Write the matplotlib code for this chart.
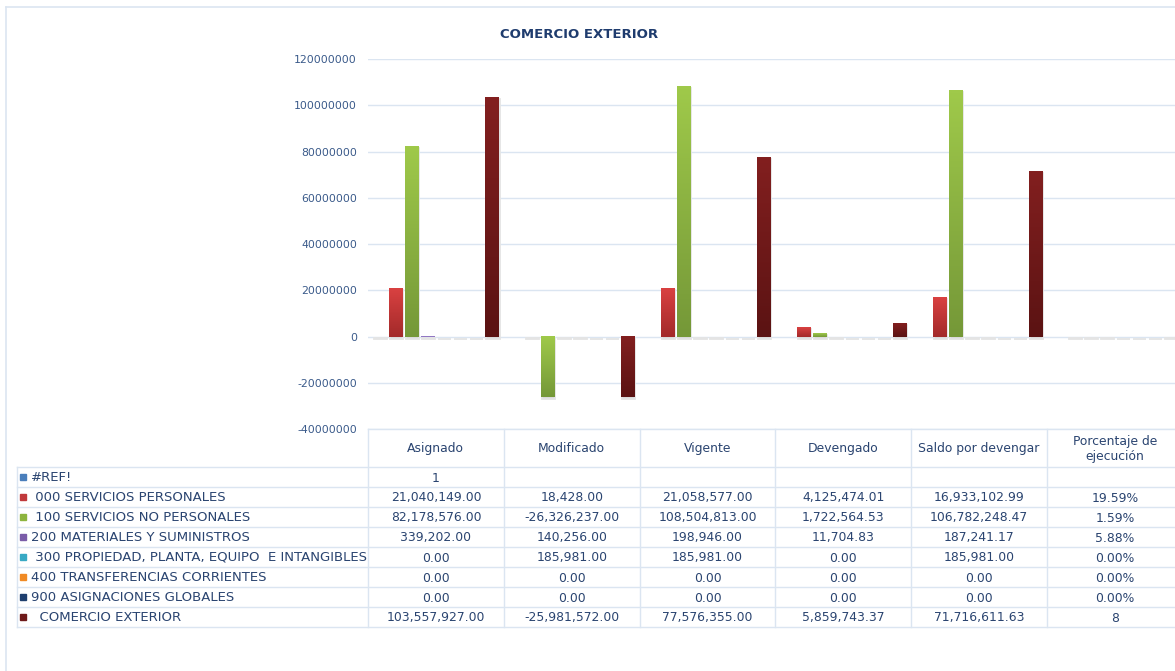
import numpy as np
import matplotlib.pyplot as plt
from matplotlib.colors import LinearSegmentedColormap
from matplotlib.patches import Rectangle
from matplotlib.transforms import offset_copy

plt.rcParams.update({"font.family": "DejaVu Sans"})

# datos
columnas = ["Asignado", "Modificado", "Vigente", "Devengado",
            "Saldo por devengar", "Porcentaje de\nejecución"]
series = ["#REF!",
          " 000 SERVICIOS PERSONALES",
          " 100 SERVICIOS NO PERSONALES",
          "200 MATERIALES Y SUMINISTROS",
          " 300 PROPIEDAD, PLANTA, EQUIPO  E INTANGIBLES",
          "400 TRANSFERENCIAS CORRIENTES",
          "900 ASIGNACIONES GLOBALES",
          "  COMERCIO EXTERIOR"]
ref = [1, np.nan, np.nan, np.nan, np.nan, np.nan]
s000 = [21040149.00, 18428.00, 21058577.00, 4125474.01, 16933102.99, 0.1959]
s100 = [82178576.00, -26326237.00, 108504813.00, 1722564.53, 106782248.47, 0.0159]
s200 = [339202.00, 140256.00, 198946.00, 11704.83, 187241.17, 0.0588]
s300 = [0.00, 185981.00, 185981.00, 0.00, 185981.00, 0.0]
s400 = [0.00, 0.00, 0.00, 0.00, 0.00, 0.0]
s900 = [0.00, 0.00, 0.00, 0.00, 0.00, 0.0]
comercio = [103557927.00, -25981572.00, 77576355.00, 5859743.37, 71716611.63, 8]
pct_txt = ["", "19.59%", "1.59%", "5.88%", "0.00%", "0.00%", "0.00%", "8"]
yticks = np.arange(-40000000, 120000001, 20000000)

valores = [ref, s000, s100, s200, s300, s400, s900, comercio]
# (color arriba, color abajo) por serie
colores = [("#4f81bd", "#3a6aa5"), ("#d94141", "#a32a2a"), ("#9fc94a", "#759838"),
           ("#9a80c8", "#8a70c0"), ("#4bb3cc", "#2f93ab"), ("#f59a3a", "#e07b18"),
           ("#2a4f86", "#1c3a66"), ("#821f1f", "#5b1313")]
marcas = ["#4a7ebb", "#c0393b", "#8db43e", "#7a5ca8", "#38a9c4", "#f08a24",
          "#1f3f6e", "#6e1a1a"]

W, H = 1175, 671
fig = plt.figure(figsize=(W / 100, H / 100), dpi=100)

# capa de fondo en pixeles para tabla y bordes
bg = fig.add_axes([0, 0, 1, 1], zorder=0)
bg.set_xlim(0, W)
bg.set_ylim(H, 0)
bg.axis("off")

x_eje = 368
ancho_grupo = 135.8
y_top, y_bot = 59, 429
ax = fig.add_axes([x_eje / W, 1 - y_bot / H, 6 * ancho_grupo / W, (y_bot - y_top) / H],
                  zorder=1)
ax.patch.set_alpha(0)

n = len(series)
paso = 0.118
ancho = 0.096
x = np.arange(len(columnas))
sombra = offset_copy(ax.transData, fig=fig, x=1, y=-2, units="dots")
# valor que ocupa medio pixel en el eje y
medio_px = 0.5 * (yticks[-1] - yticks[0]) / (y_bot - y_top)

for j, vals in enumerate(valores):
    vals = np.array(vals, dtype=float)
    ok = ~np.isnan(vals)
    pos = x[ok] + (j - (n - 1) / 2) * paso
    ax.bar(pos, vals[ok], width=ancho, color="#d9d9d9", edgecolor="#e4e4e4",
           linewidth=1.3, transform=sombra, zorder=2)
    cmap = LinearSegmentedColormap.from_list("g%d" % j, [colores[j][0], colores[j][1]])
    for p, v in zip(pos, vals[ok]):
        if abs(v) < medio_px:
            continue
        y0, y1 = sorted([0, v])
        grad = np.linspace(0, 1, 64).reshape(-1, 1)
        ax.imshow(grad, extent=[p - ancho / 2, p + ancho / 2, y0, y1], origin="upper",
                  cmap=cmap, aspect="auto", zorder=4, interpolation="bilinear")

ax.set_xlim(-0.5, len(columnas) - 0.5)
ax.set_ylim(yticks[0], yticks[-1])
ax.set_yticks(yticks)
ax.set_yticklabels([str(int(t)) for t in yticks])
ax.set_xticks([])
ax.tick_params(axis="y", length=0, pad=8, labelsize=7.8, labelcolor="#3a5a8a")
ax.grid(axis="y", color="#dbe5f1", linewidth=1)
ax.set_axisbelow(True)
for s in ax.spines.values():
    s.set_visible(False)

fig.text(579 / W, 1 - 35 / H, "COMERCIO EXTERIOR", ha="center", va="center",
         fontsize=9.5, fontweight="bold", color="#1f3c6e")

# borde del grafico
lc = "#dbe5f1"
bg.plot([6, 6], [7, H], color=lc, lw=1.2)
bg.plot([6, W], [7, 7], color=lc, lw=1.2)

# tabla de datos
txt = "#2a4470"
x_label = 17
h_fila = 20
y_fila0 = 467
bordes = [x_eje + k * ancho_grupo for k in range(len(columnas) + 1)]
y_fin = y_fila0 + n * h_fila

bg.plot([x_eje, W], [y_bot, y_bot], color=lc, lw=1)
for k in range(n + 1):
    yy = y_fila0 + k * h_fila
    bg.plot([x_label, W], [yy, yy], color=lc, lw=1)
bg.plot([x_label, x_label], [y_fila0, y_fin], color=lc, lw=1)
for xb in bordes[:-1]:
    bg.plot([xb, xb], [y_bot, y_fin], color=lc, lw=1)

for c, nombre in enumerate(columnas):
    xc = (bordes[c] + bordes[c + 1]) / 2
    if "\n" in nombre:
        bg.text(xc, (y_bot + y_fila0) / 2 + 1, nombre, ha="center", va="center",
                fontsize=8.9, color=txt, linespacing=1.25)
    else:
        bg.text(xc, (y_bot + y_fila0) / 2 + 4, nombre, ha="center", va="baseline",
                fontsize=8.9, color=txt)

for j, nombre in enumerate(series):
    yc = y_fila0 + j * h_fila + h_fila / 2
    bg.add_patch(Rectangle((20, yc - 3), 6, 6, color=marcas[j]))
    bg.text(31, yc + 4, nombre, ha="left", va="baseline", fontsize=9.5, color=txt)
    for c in range(len(columnas)):
        xc = (bordes[c] + bordes[c + 1]) / 2
        if c == len(columnas) - 1:
            s = pct_txt[j]
        else:
            v = valores[j][c]
            if np.isnan(v):
                s = ""
            elif j == 0:
                s = str(int(v))
            else:
                s = f"{v:,.2f}"
        bg.text(xc, yc + 4.5, s, ha="center", va="baseline", fontsize=8.9, color=txt)

fig.savefig("out.png", dpi=100)
